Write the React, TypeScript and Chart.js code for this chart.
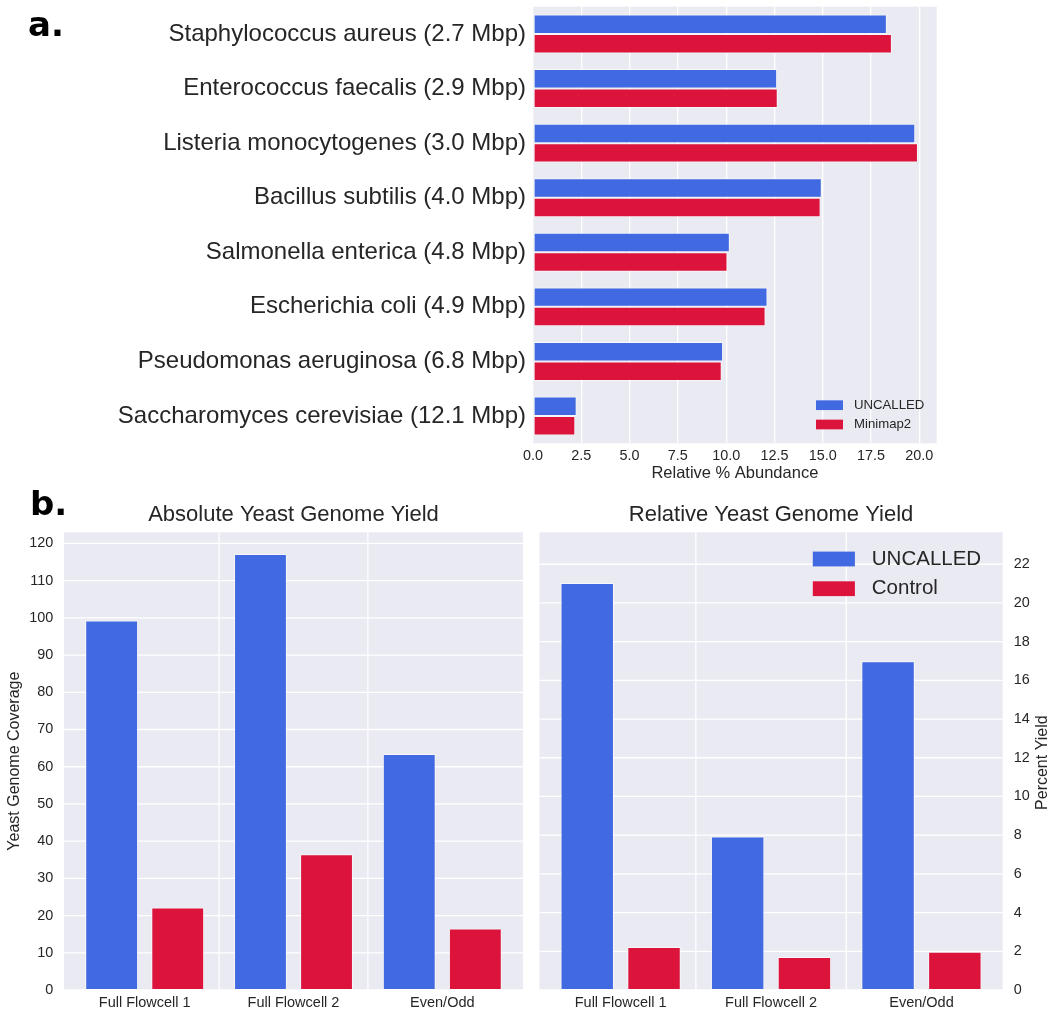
import React, { useEffect, useRef } from "react";
import { Chart, registerables } from "chart.js";

Chart.register(...registerables);

// ---------- data ----------
const speciesLabels = [
  "Staphylococcus aureus (2.7 Mbp)",
  "Enterococcus faecalis (2.9 Mbp)",
  "Listeria monocytogenes (3.0 Mbp)",
  "Bacillus subtilis (4.0 Mbp)",
  "Salmonella enterica (4.8 Mbp)",
  "Escherichia coli (4.9 Mbp)",
  "Pseudomonas aeruginosa (6.8 Mbp)",
  "Saccharomyces cerevisiae (12.1 Mbp)",
];
const uncalledAbundance = [18.32, 12.64, 19.79, 14.95, 10.19, 12.14, 9.84, 2.26];
const minimap2Abundance = [18.58, 12.67, 19.93, 14.89, 10.07, 12.04, 9.77, 2.19];

const runLabels = ["Full Flowcell 1", "Full Flowcell 2", "Even/Odd"];
const uncalledCoverage = [99.3, 117.2, 63.4];
const controlCoverage = [22.2, 36.5, 16.5];
const uncalledPercent = [21.03, 7.93, 16.99];
const controlPercent = [2.22, 1.71, 1.97];

// ---------- style ----------
const FAMILY = "'Liberation Sans', Arial, sans-serif";
const TXT = "#262626";
const BLUE = "#4169E1";
const RED = "#DC143C";
const EDGE = "rgba(255,255,255,0.6)";
const BG = "#EAEAF2";

Chart.defaults.font.family = FAMILY;
Chart.defaults.color = TXT;

const panelPlugin = {
  id: "panelBg",
  beforeDraw(chart: any, _args: any, o: any) {
    const { ctx, chartArea: a } = chart;
    const ext = o.ext || 0;
    ctx.save();
    ctx.fillStyle = BG;
    ctx.fillRect(a.left - ext, a.top, a.right - a.left + 2 * ext, a.bottom - a.top);
    if (o.manualGrid) {
      ctx.strokeStyle = "#ffffff";
      ctx.lineWidth = 1.3;
      const ys = chart.scales.y;
      ys.ticks.forEach((t: any) => {
        const y = ys.getPixelForValue(t.value);
        ctx.beginPath();
        ctx.moveTo(a.left - ext, y);
        ctx.lineTo(a.right + ext, y);
        ctx.stroke();
      });
      const xs = chart.scales.x;
      for (let i = 1; i < xs.ticks.length; i++) {
        const x = (xs.getPixelForTick(i - 1) + xs.getPixelForTick(i)) / 2;
        ctx.beginPath();
        ctx.moveTo(x, a.top);
        ctx.lineTo(x, a.bottom);
        ctx.stroke();
      }
    }
    ctx.restore();
  },
  afterDraw(chart: any, _args: any, o: any) {
    const { ctx, chartArea: a } = chart;
    ctx.save();
    if (o.legend) {
      const L = o.legend;
      chart.data.datasets.forEach((ds: any, i: number) => {
        const cy = (L.fromBottom ? a.bottom : a.top) + L.rows[i];
        ctx.fillStyle = ds.backgroundColor;
        ctx.fillRect(a.right + L.boxX, cy - L.boxH / 2, L.boxW, L.boxH);
        ctx.fillStyle = TXT;
        ctx.font = `${L.size}px ${FAMILY}`;
        ctx.textAlign = "left";
        ctx.textBaseline = "middle";
        ctx.fillText(ds.label, a.right + L.textX, cy);
      });
    }
    if (o.panelLabel) {
      const P = o.panelLabel;
      ctx.fillStyle = "#000";
      ctx.font = `bold 34px 'DejaVu Sans', sans-serif`;
      ctx.textAlign = "left";
      ctx.textBaseline = "alphabetic";
      ctx.fillText(P.text, P.x, P.y);
    }
    if (o.rightTitle) {
      const R = o.rightTitle;
      ctx.fillStyle = TXT;
      ctx.font = `${R.size}px ${FAMILY}`;
      ctx.translate(R.x, (a.top + a.bottom) / 2 + 1.5);
      ctx.rotate(-Math.PI / 2);
      ctx.textAlign = "center";
      ctx.textBaseline = "middle";
      ctx.fillText(R.text, 0, 0);
    }
    ctx.restore();
  },
};

function barDs(label: string, data: number[], color: string, cat: number, bar: number) {
  return {
    label,
    data,
    backgroundColor: color,
    borderColor: EDGE,
    borderWidth: 1,
    borderSkipped: false,
    categoryPercentage: cat,
    barPercentage: bar,
  };
}

function fixW(w: number) {
  return (s: any) => {
    s.width = w;
    s.paddingTop = 0;
    s.paddingBottom = 0;
    s.paddingLeft = 0;
    s.paddingRight = 0;
  };
}
function fixH(h: number) {
  return (s: any) => {
    s.height = h;
    s.paddingTop = 0;
    s.paddingBottom = 0;
    s.paddingLeft = 0;
    s.paddingRight = 0;
  };
}

function configA(): any {
  return {
    type: "bar",
    data: {
      labels: speciesLabels,
      datasets: [
        barDs("UNCALLED", uncalledAbundance, BLUE, 0.714, 1),
        barDs("Minimap2", minimap2Abundance, RED, 0.714, 1),
      ],
    },
    plugins: [panelPlugin],
    options: {
      indexAxis: "y",
      responsive: false,
      animation: false,
      layout: { padding: { top: 6.7, right: 13.3, left: 0, bottom: 0 } },
      plugins: {
        legend: { display: false },
        tooltip: { enabled: false },
        title: { display: false },
        panelBg: {
          ext: 0,
          legend: { fromBottom: true, rows: [-38.1, -18.8], boxX: -120.7, boxW: 27, boxH: 9.7, textX: -82.7, size: 13.2 },
          panelLabel: { text: "a.", x: 28, y: 36 },
        },
      },
      scales: {
        x: {
          type: "linear",
          min: 0,
          max: 20.9,
          position: "bottom",
          grid: { color: "#ffffff", lineWidth: 1.3, drawTicks: false },
          border: { display: false },
          ticks: {
            stepSize: 2.5,
            includeBounds: false,
            padding: 4,
            color: TXT,
            font: { size: 14.4 },
            callback: (v: any) => Number(v).toFixed(1),
          },
          title: {
            display: true,
            text: "Relative % Abundance",
            color: TXT,
            font: { size: 16.5 },
            padding: { top: 0, bottom: 6.8 },
          },
          afterFit: fixH(46.7),
        },
        y: {
          type: "category",
          grid: { display: false, drawTicks: false },
          border: { display: false },
          ticks: { padding: 7, color: TXT, font: { size: 24 } },
          afterFit: fixW(533),
        },
      },
    },
  };
}

function configB1(): any {
  return {
    type: "bar",
    data: {
      labels: runLabels,
      datasets: [
        barDs("UNCALLED", uncalledCoverage, BLUE, 0.888, 0.8),
        barDs("Control", controlCoverage, RED, 0.888, 0.8),
      ],
    },
    plugins: [panelPlugin],
    options: {
      responsive: false,
      animation: false,
      layout: { padding: { top: 0, right: 13.3, left: 0, bottom: 0 } },
      plugins: {
        legend: { display: false },
        tooltip: { enabled: false },
        title: {
          display: true,
          text: "Absolute Yeast Genome Yield",
          fullSize: false,
          color: TXT,
          font: { size: 22, weight: "normal" },
          padding: { top: 11.8, bottom: 4.1 },
        },
        panelBg: {
          ext: 6.3,
          manualGrid: true,
          panelLabel: { text: "b.", x: 30, y: 25 },
        },
      },
      scales: {
        x: {
          type: "category",
          grid: { display: false, drawTicks: false },
          border: { display: false },
          ticks: { padding: 4, color: TXT, font: { size: 14.5 } },
          afterFit: fixH(26),
        },
        y: {
          type: "linear",
          min: 0,
          max: 123,
          grid: { display: false, drawTicks: false },
          border: { display: false },
          ticks: { stepSize: 10, includeBounds: false, padding: 17, color: TXT, font: { size: 14.4 } },
          title: {
            display: true,
            text: "Yeast Genome Coverage",
            color: TXT,
            font: { size: 16 },
            padding: { top: 5.1, bottom: 0 },
          },
          afterFit: fixW(70.3),
        },
      },
    },
  };
}

function configB2(): any {
  return {
    type: "bar",
    data: {
      labels: runLabels,
      datasets: [
        barDs("UNCALLED", uncalledPercent, BLUE, 0.888, 0.8),
        barDs("Control", controlPercent, RED, 0.888, 0.8),
      ],
    },
    plugins: [panelPlugin],
    options: {
      responsive: false,
      animation: false,
      layout: { padding: { top: 0, right: 0, left: 15.45, bottom: 0 } },
      plugins: {
        legend: { display: false },
        tooltip: { enabled: false },
        title: {
          display: true,
          text: "Relative Yeast Genome Yield",
          fullSize: false,
          color: TXT,
          font: { size: 22, weight: "normal" },
          padding: { top: 11.8, bottom: 4.1 },
        },
        panelBg: {
          ext: 6.05,
          manualGrid: true,
          legend: { fromBottom: false, rows: [26.7, 56.4], boxX: -183.85, boxW: 42.1, boxH: 14.8, textX: -124.85, size: 20.5 },
          rightTitle: { text: "Percent Yield", x: 512.6, size: 16 },
        },
      },
      scales: {
        x: {
          type: "category",
          grid: { display: false, drawTicks: false },
          border: { display: false },
          ticks: { padding: 4, color: TXT, font: { size: 14.5 } },
          afterFit: fixH(26),
        },
        y: {
          type: "linear",
          position: "right",
          min: 0,
          max: 23.65,
          grid: { display: false, drawTicks: false },
          border: { display: false },
          ticks: { stepSize: 2, includeBounds: false, padding: 17.2, color: TXT, font: { size: 14.4 } },
          afterFit: fixW(53.35),
        },
      },
    },
  };
}

export default function App() {
  const refA = useRef<HTMLCanvasElement>(null);
  const refB1 = useRef<HTMLCanvasElement>(null);
  const refB2 = useRef<HTMLCanvasElement>(null);

  useEffect(() => {
    const charts = [
      new Chart(refA.current as HTMLCanvasElement, configA()),
      new Chart(refB1.current as HTMLCanvasElement, configB1()),
      new Chart(refB2.current as HTMLCanvasElement, configB2()),
    ];
    return () => charts.forEach((c) => c.destroy());
  }, []);

  return (
    <div
      style={{
        position: "absolute",
        left: 0,
        top: 0,
        width: 1050,
        height: 1016,
        background: "#ffffff",
        overflow: "hidden",
      }}
    >
      <canvas ref={refA} width={950} height={490} style={{ position: "absolute", left: 0, top: 0 }} />
      <canvas ref={refB1} width={530} height={526} style={{ position: "absolute", left: 0, top: 490 }} />
      <canvas ref={refB2} width={520} height={526} style={{ position: "absolute", left: 530, top: 490 }} />
    </div>
  );
}
